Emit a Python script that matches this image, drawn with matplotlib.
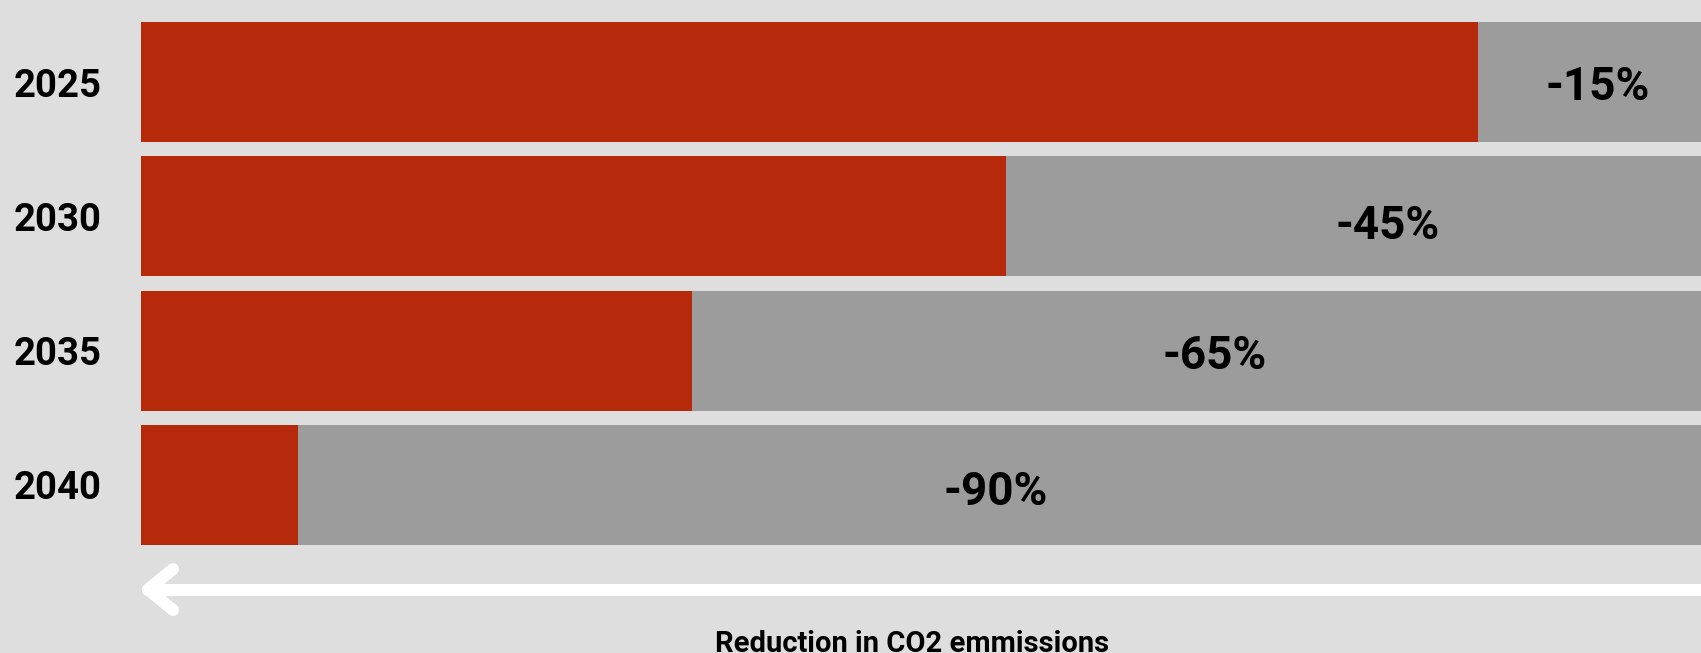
import matplotlib
matplotlib.use("Agg")
import matplotlib.pyplot as plt
from matplotlib.lines import Line2D
from matplotlib.transforms import offset_copy

plt.rcParams['font.family'] = ['Roboto', 'DejaVu Sans']

# ---- data ----
years = ["2025", "2030", "2035", "2040"]
remaining = [85, 55, 35, 10]          # share of emissions remaining (%)
reduction_labels = ["-15%", "-45%", "-65%", "-90%"]
total = 100
axis_title = "Reduction in CO2 emmissions"

# ---- style ----
BG = "#DEDEDE"
RED = "#B7290B"
GREY = "#9C9C9C"
label_nudge_px = [(2, 0), (28, -5), (12, -1), (-10, -3)]  # fine placement of labels

W, H = 1701, 653
DPI = 100
fig = plt.figure(figsize=(W / DPI, H / DPI), dpi=DPI, facecolor=BG)

# axes in pixel geometry (extends slightly past the right edge like the original)
left_px, right_px = 141, 1714
top_px, bottom_px = 15, 552
ax = fig.add_axes([left_px / W, 1 - bottom_px / H,
                   (right_px - left_px) / W, (bottom_px - top_px) / H])
ax.set_facecolor(BG)
ax.patch.set_alpha(0)

ypos = list(range(len(years)))
bh = 0.894
ax.barh(ypos, [total] * len(years), height=bh, color=GREY, linewidth=0)
ax.barh(ypos, remaining, height=bh, color=RED, linewidth=0)

for y, r, lab, (dx, dy) in zip(ypos, remaining, reduction_labels, label_nudge_px):
    tr = offset_copy(ax.transData, fig=fig, x=dx, y=dy, units="dots")
    ax.text((r + total) / 2, y, lab, ha="center", va="center_baseline",
            fontsize=33, fontweight="bold", color="black", transform=tr)

ax.set_xlim(0, total)
ax.set_ylim(len(years) - 0.5, -0.5)
ax.set_yticks(ypos)
ax.set_yticklabels(years, fontsize=27.5, fontweight="bold", va="center_baseline")
ax.tick_params(axis="y", length=0, pad=28)
ax.set_xticks([])
for s in ax.spines.values():
    s.set_visible(False)

# ---- arrow (decoration), pixel coords measured from top ----
def px(xs, ys):
    return xs, [H - y for y in ys]

lw = 12 * 72 / DPI
xs, ys = px([1720, 148], [589.5, 589.5])
fig.add_artist(Line2D(xs, ys, transform=None, color="white", lw=lw,
                      solid_capstyle="round"))
xs, ys = px([173, 148, 173], [569, 589.5, 610])
fig.add_artist(Line2D(xs, ys, transform=None, color="white", lw=lw,
                      solid_capstyle="round", solid_joinstyle="round"))

fig.text(912 / W, 1 - 652 / H, axis_title, ha="center", va="baseline",
         fontsize=21, fontweight="bold", color="black")

fig.savefig("out.png", dpi=DPI, facecolor=BG)
